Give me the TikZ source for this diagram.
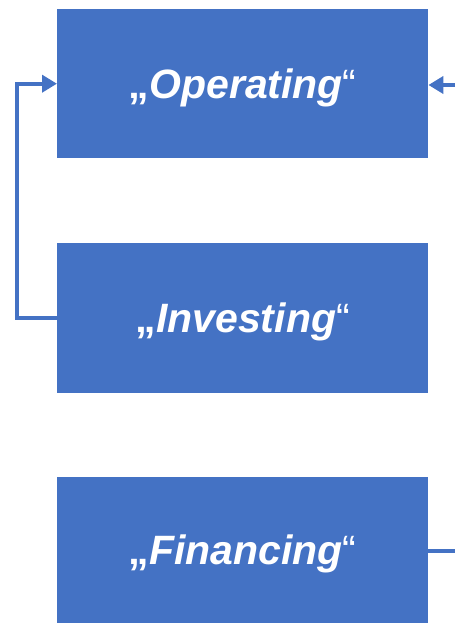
\documentclass[tikz,border=0pt]{standalone}
\usepackage{fontspec}
\setmainfont{Liberation Sans}
\usetikzlibrary{arrows.meta}
\definecolor{obox}{HTML}{4472C4}
\tikzset{
  box/.style={fill=obox, draw=none, minimum width=371pt, anchor=north west, inner sep=0pt, text=white, text height=36pt, text depth=7pt, font=\fontsize{41}{46}\selectfont},
  conn/.style={draw=obox, line width=4pt},
  arr/.style={conn, -{Triangle[length=15pt,width=17pt]}}
}
\newcommand{\qword}[1]{{\bfseries „}{\bfseries\itshape #1}“}
\begin{document}
\begin{tikzpicture}[x=1pt,y=-1pt]
\useasboundingbox (0,0) rectangle (455,623);
\node[box, minimum height=149pt] (op) at (57,9) {\qword{Operating}};
\node[box, minimum height=150pt] (inv) at (57,243) {\qword{Investing}};
\node[box, minimum height=146pt] (fin) at (57,477) {\qword{Financing}};
\coordinate (lc) at (17,0);
\coordinate (rtop) at (455,85);
\coordinate (rbot) at (455,551);
\draw[arr] (inv.west) -- (inv.west -| lc) -- (op.west -| lc) -- (op.west);
\draw[arr] (rtop) -- (op.east |- rtop);
\draw[conn] (fin.east |- rbot) -- (rbot);
\end{tikzpicture}
\end{document}
